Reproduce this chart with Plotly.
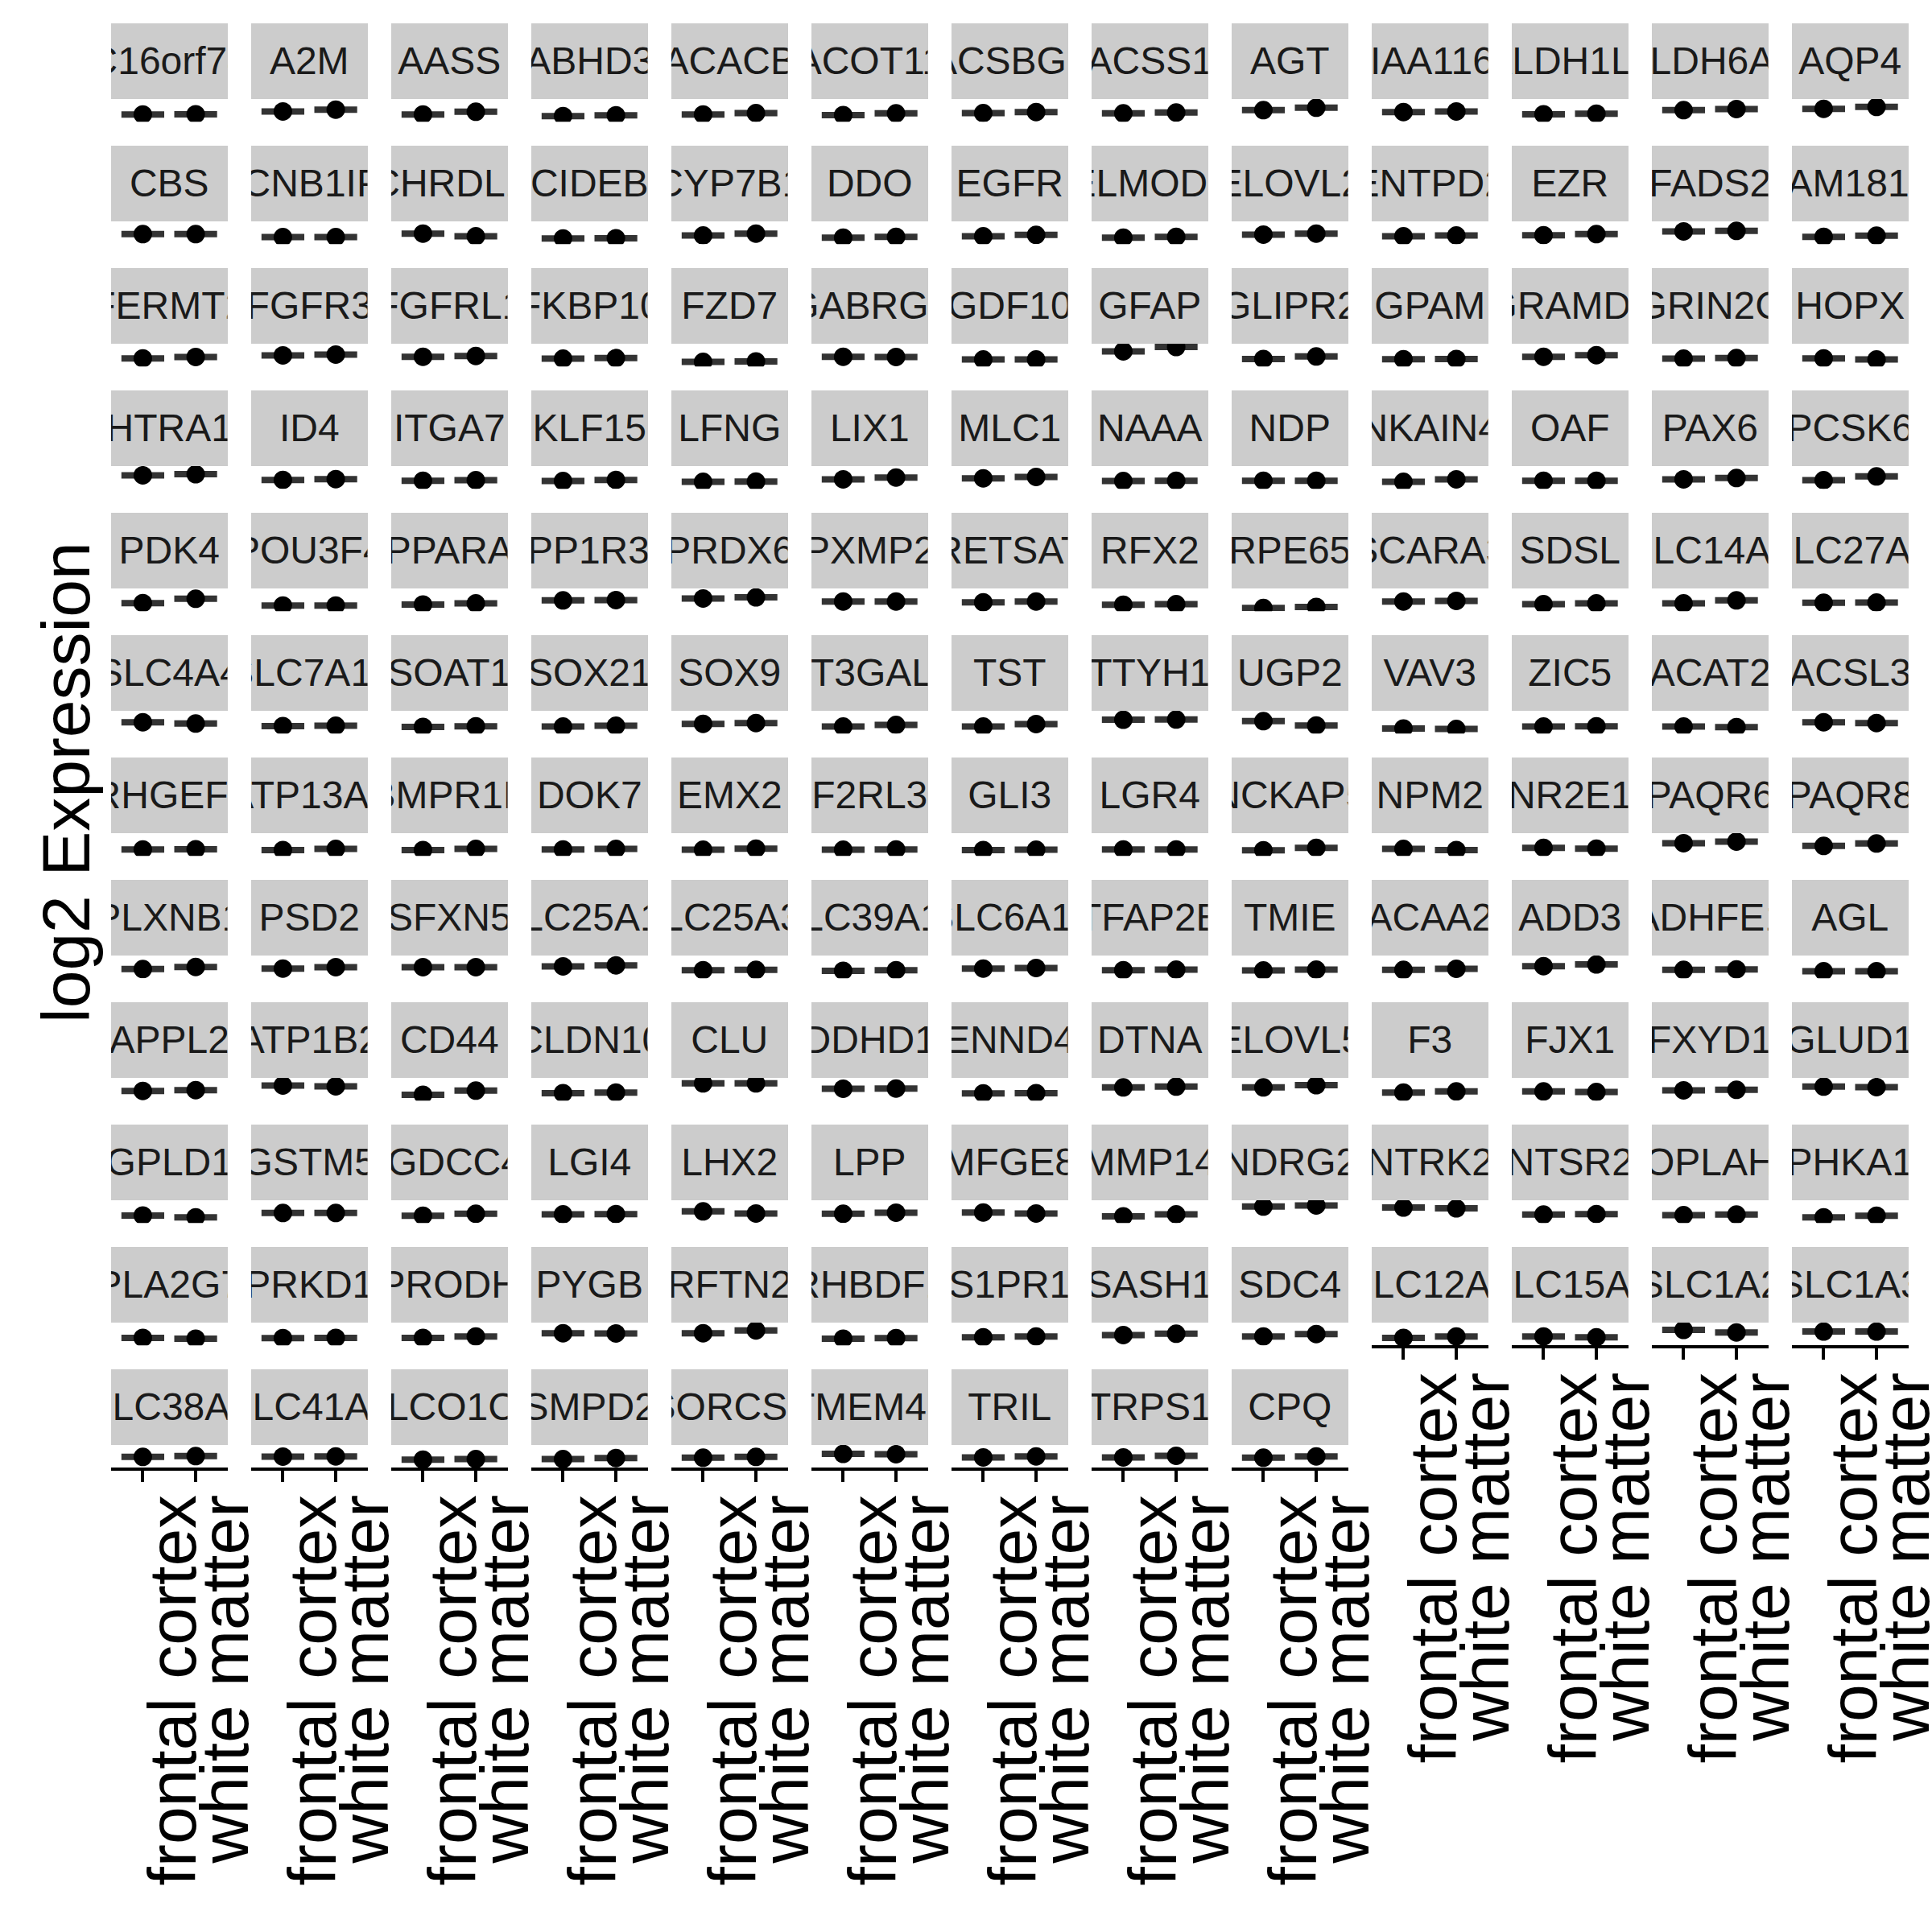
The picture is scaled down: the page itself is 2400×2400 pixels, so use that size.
import plotly.graph_objects as go

# ---------------- data ----------------
genes = [
    "C16orf74", "A2M", "AASS", "ABHD3", "ACACB", "ACOT11", "ACSBG1", "ACSS1", "AGT", "KIAA1161", "ALDH1L1", "ALDH6A1", "AQP4",
    "CBS", "CCNB1IP1", "CHRDL1", "CIDEB", "CYP7B1", "DDO", "EGFR", "ELMOD1", "ELOVL2", "ENTPD2", "EZR", "FADS2", "FAM181B",
    "FERMT2", "FGFR3", "FGFRL1", "FKBP10", "FZD7", "GABRG1", "GDF10", "GFAP", "GLIPR2", "GPAM", "GRAMD3", "GRIN2C", "HOPX",
    "HTRA1", "ID4", "ITGA7", "KLF15", "LFNG", "LIX1", "MLC1", "NAAA", "NDP", "NKAIN4", "OAF", "PAX6", "PCSK6",
    "PDK4", "POU3F4", "PPARA", "PPP1R3C", "PRDX6", "PXMP2", "RETSAT", "RFX2", "RPE65", "SCARA3", "SDSL", "SLC14A1", "SLC27A1",
    "SLC4A4", "SLC7A11", "SOAT1", "SOX21", "SOX9", "ST3GAL6", "TST", "TTYH1", "UGP2", "VAV3", "ZIC5", "ACAT2", "ACSL3",
    "ARHGEF10", "ATP13A4", "BMPR1B", "DOK7", "EMX2", "F2RL3", "GLI3", "LGR4", "NCKAP5", "NPM2", "NR2E1", "PAQR6", "PAQR8",
    "PLXNB1", "PSD2", "SFXN5", "SLC25A18", "SLC25A33", "SLC39A12", "SLC6A11", "TFAP2B", "TMIE", "ACAA2", "ADD3", "ADHFE1", "AGL",
    "APPL2", "ATP1B2", "CD44", "CLDN10", "CLU", "DDHD1", "DENND4C", "DTNA", "ELOVL5", "F3", "FJX1", "FXYD1", "GLUD1",
    "GPLD1", "GSTM5", "IGDCC4", "LGI4", "LHX2", "LPP", "MFGE8", "MMP14", "NDRG2", "NTRK2", "NTSR2", "OPLAH", "PHKA1",
    "PLA2G7", "PRKD1", "PRODH", "PYGB", "RFTN2", "RHBDF1", "S1PR1", "SASH1", "SDC4", "SLC12A4", "SLC15A2", "SLC1A2", "SLC1A3",
    "SLC38A1", "SLC41A1", "SLCO1C1", "SMPD2", "SORCS2", "TMEM47", "TRIL", "TRPS1", "CPQ",
]

frontal_cortex = [
    7.25, 8.17, 7.25, 6.75, 7.25, 7.08, 7.67, 7.58, 8.58, 8.00, 7.33, 8.58, 9.00,
    8.08, 7.17, 8.25, 6.75, 7.67, 7.00, 7.42, 7.00, 7.92, 7.42, 7.75, 8.92, 7.25,
    7.50, 8.42, 8.00, 7.42, 6.42, 8.00, 7.17, 9.67, 7.33, 7.25, 8.00, 7.42, 7.50,
    9.17, 7.75, 7.50, 7.42, 7.17, 7.92, 8.25, 7.42, 7.50, 7.17, 7.50, 7.92, 7.67,
    7.50, 6.75, 7.08, 8.33, 8.92, 8.00, 7.75, 7.00, 6.00, 8.00, 7.17, 7.42, 7.58,
    8.50, 7.33, 7.08, 7.17, 8.00, 7.17, 7.17, 9.25, 8.83, 6.58, 7.17, 7.17, 8.50,
    7.00, 6.83, 6.83, 7.00, 6.92, 6.92, 6.83, 7.00, 6.75, 7.17, 7.50, 8.92, 8.08,
    7.83, 8.00, 8.42, 8.67, 7.50, 7.33, 8.00, 7.50, 7.42, 7.58, 8.75, 7.58, 7.17,
    8.00, 9.67, 6.83, 7.33, 10.33, 8.67, 7.25, 9.08, 9.08, 7.50, 7.83, 8.17, 9.33,
    7.33, 8.08, 7.25, 7.67, 8.58, 7.83, 8.25, 7.08, 10.08, 9.75, 7.58, 7.42, 6.75,
    7.33, 7.25, 7.33, 8.75, 8.75, 7.08, 7.50, 8.17, 7.75, 7.33, 7.75, 9.75, 9.25,
    8.33, 8.42, 7.50, 7.67, 8.08, 9.25, 8.17, 8.17, 8.08,
]

white_matter = [
    7.33, 8.75, 8.08, 7.00, 7.67, 7.58, 8.00, 7.83, 9.33, 8.17, 7.50, 8.92, 9.58,
    8.08, 7.17, 7.42, 6.83, 8.25, 7.25, 7.83, 7.25, 8.25, 7.67, 8.08, 9.08, 7.58,
    7.92, 8.67, 8.25, 7.58, 6.58, 7.92, 7.17, 11.00, 8.08, 7.33, 8.50, 7.58, 7.17,
    9.50, 8.00, 7.67, 7.75, 7.25, 8.50, 8.67, 7.50, 7.50, 7.92, 7.50, 8.33, 8.83,
    8.83, 6.75, 7.42, 8.42, 9.25, 8.00, 8.00, 7.17, 6.33, 8.17, 7.42, 8.33, 7.67,
    8.08, 7.42, 7.25, 7.42, 8.25, 7.67, 7.92, 9.33, 7.50, 6.42, 7.25, 7.00, 8.25,
    7.08, 7.17, 7.17, 7.17, 7.25, 7.00, 6.92, 7.00, 7.50, 6.83, 7.25, 9.42, 8.83,
    8.50, 8.42, 8.42, 9.00, 7.58, 7.50, 8.17, 7.67, 7.67, 7.92, 9.25, 7.75, 7.17,
    8.25, 9.42, 8.08, 7.50, 10.33, 8.75, 7.33, 9.33, 9.75, 7.83, 7.67, 8.33, 9.17,
    6.75, 8.08, 7.83, 7.75, 7.92, 8.17, 7.92, 7.67, 10.42, 9.50, 7.75, 7.58, 7.25,
    7.08, 7.33, 7.75, 8.67, 9.60, 7.25, 7.75, 8.58, 8.50, 7.75, 7.50, 9.00, 9.25,
    8.58, 8.50, 7.67, 8.00, 8.33, 9.17, 8.50, 8.67, 8.50,
]

regions = ["frontal cortex", "white matter"]
y_title = "log2 Expression"

# ---------------- layout geometry (pixels) ----------------
W = H = 2400
NCOL = 13
COL_LEFT0, COL_PITCH, PANEL_W = 138.0, 174.0, 144.5
ROW_TOP0, ROW_PITCH, STRIP_H, PANEL_H = 29.3, 152.0, 93.7, 28.3
YRANGE = [5, 12]
FONT = "Liberation Sans, Arial, Helvetica, sans-serif"

fig = go.Figure()
annotations = []
layout_axes = {}
n = len(genes)
xpos = [1, 2]

for k, g in enumerate(genes):
    r, c = divmod(k, NCOL)
    left = COL_LEFT0 + COL_PITCH * c
    strip_top = ROW_TOP0 + ROW_PITCH * r
    strip_bot = strip_top + STRIP_H
    pan_bot = strip_bot + PANEL_H
    suffix = "" if k == 0 else str(k + 1)
    xa, ya = "x" + suffix, "y" + suffix
    bottom = (k + NCOL) >= n

    layout_axes["xaxis" + suffix] = dict(
        domain=[left / W, (left + PANEL_W) / W],
        anchor=ya, range=[0.4, 2.6], automargin=False,
        tickvals=xpos, ticktext=regions,
        showgrid=False, zeroline=False,
        showline=bottom, linecolor="black", linewidth=4,
        ticks="outside" if bottom else "", ticklen=14, tickwidth=3.5, tickcolor="black",
        showticklabels=bottom, tickangle=-90, ticklabeloverflow="allow",
        tickfont=dict(family=FONT, size=84, color="black"),
        ticklabelshift=38, ticklabelstandoff=-18,
        fixedrange=True,
    )
    layout_axes["yaxis" + suffix] = dict(
        domain=[1 - pan_bot / W, 1 - strip_bot / H],
        anchor=xa, range=YRANGE, visible=False, fixedrange=True,
        automargin=False,
    )

    yv = [frontal_cortex[k], white_matter[k]]
    fig.add_trace(go.Scatter(
        x=xpos, y=yv, xaxis=xa, yaxis=ya, mode="markers",
        marker=dict(symbol="line-ew", size=38, color="#333333",
                    line=dict(width=8, color="#333333")),
        hoverinfo="skip", showlegend=False,
    ))
    fig.add_trace(go.Scatter(
        x=xpos, y=yv, xaxis=xa, yaxis=ya, mode="markers",
        marker=dict(symbol="circle", size=23, color="black", line=dict(width=0)),
        hoverinfo="skip", showlegend=False,
    ))

    annotations.append(dict(
        text=g, xref="paper", yref="paper",
        x=(left + PANEL_W / 2) / W, y=1 - (strip_top + STRIP_H / 2) / H,
        xanchor="center", yanchor="middle", showarrow=False,
        width=PANEL_W, height=STRIP_H, bgcolor="#cccccc",
        borderpad=0, borderwidth=0,
        font=dict(family=FONT, size=48, color="#1a1a1a"),
    ))

annotations.append(dict(
    text=y_title, xref="paper", yref="paper", x=82 / W, y=1 - 972 / H,
    xanchor="center", yanchor="middle", showarrow=False, textangle=-90,
    font=dict(family=FONT, size=84, color="black"),
))

fig.update_layout(
    width=W, height=H, margin=dict(l=0, r=0, t=0, b=0, autoexpand=False),
    paper_bgcolor="white", plot_bgcolor="white",
    annotations=annotations, showlegend=False,
    **layout_axes,
)

fig.write_html("out.html")
